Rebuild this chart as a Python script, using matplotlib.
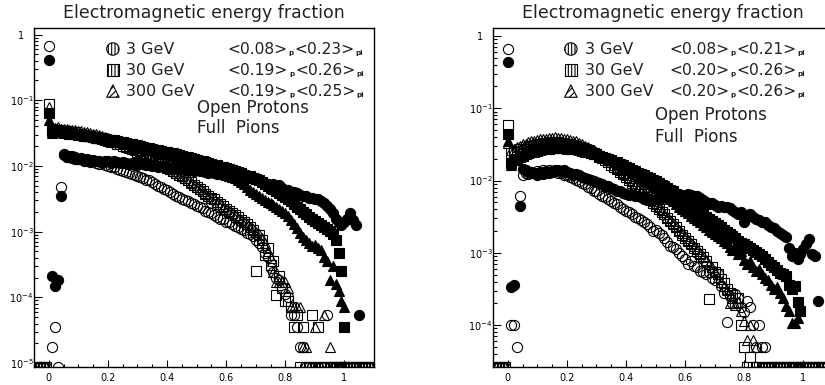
import numpy as np
import matplotlib
matplotlib.use("Agg")
import matplotlib.pyplot as plt
from matplotlib.ticker import FixedLocator, NullFormatter

# ---------------- data (log10 of bin content, bins of 0.01 starting at x=0.00; None = empty bin)
bin_width = 0.01
legend_labels = ["3 GeV", "30 GeV", "300 GeV"]
# mean values: (proton, pion)
left_means = [("0.08", "0.23"), ("0.19", "0.26"), ("0.19", "0.25")]
right_means = [("0.08", "0.21"), ("0.20", "0.26"), ("0.20", "0.26")]
title_text = "Electromagnetic energy fraction"
xtick_values = [0, 0.2, 0.4, 0.6, 0.8, 1.0]
xtick_labels = ["0", "0.2", "0.4", "0.6", "0.8", "1"]

# ---- left panel
left_p3 = [-0.18, -4.75, -4.45, None, -2.32, -1.84, -1.86, -1.85, -1.88, -1.87,
           -1.90, -1.89, -1.92, -1.91, -1.94, -1.93, -1.96, -1.97, -1.96, -1.99,
           -2.00, -2.02, -2.01, -2.04, -2.06, -2.07, -2.09, -2.10, -2.12, -2.13,
           -2.15, -2.17, -2.18, -2.21, -2.22, -2.25, -2.27, -2.30, -2.32, -2.35,
           -2.37, -2.40, -2.42, -2.46, -2.47, -2.50, -2.52, -2.53, -2.57, -2.58,
           -2.61, -2.63, -2.64, -2.68, -2.70, -2.71, -2.75, -2.77, -2.80, -2.81,
           -2.85, -2.86, -2.88, -2.92, -2.93, -2.96, -2.98, -3.02, -3.04, -3.07,
           -3.12, -3.17, -3.24, -3.33, -3.38, -3.55, -3.62, -3.70, -3.74, -3.85,
           -3.95, -4.00, -4.27, -4.27, -4.45, -4.75, -4.75, None, None, None,
           None, None, None, None, -4.27]
left_pi3 = [-0.38, -3.68, -3.82, -3.74, -2.46, -1.82, -1.86, -1.87, -1.85, -1.89,
            -1.90, -1.88, -1.91, -1.90, -1.92, -1.91, -1.93, -1.92, -1.94, -1.92,
            -1.93, -1.95, -1.93, -1.94, -1.96, -1.94, -1.95, -1.97, -1.95, -1.96,
            -1.98, -1.96, -1.97, -1.99, -1.98, -2.00, -1.98, -2.01, -2.00, -2.02,
            -2.01, -2.03, -2.02, -2.04, -2.03, -2.05, -2.04, -2.06, -2.05, -2.07,
            -2.06, -2.08, -2.07, -2.09, -2.10, -2.08, -2.11, -2.12, -2.10, -2.13,
            -2.14, -2.12, -2.15, -2.14, -2.17, -2.15, -2.18, -2.16, -2.17, -2.20,
            -2.19, -2.22, -2.24, -2.27, -2.30, -2.32, -2.28, -2.30, -2.29, -2.33,
            -2.37, -2.36, -2.39, -2.40, -2.41, -2.44, -2.45, -2.46, -2.48, -2.49,
            -2.50, -2.51, -2.53, -2.56, -2.61, -2.66, -2.72, -2.80, -2.86, -2.90,
            -2.86, -2.80, -2.72, -2.82, -2.90, -4.27]
left_p30 = [-1.05, -1.44, -1.46, -1.45, -1.47, -1.48, -1.47, -1.49, -1.50, -1.49,
            -1.52, -1.51, -1.53, -1.54, -1.55, -1.56, -1.56, -1.58, -1.59, -1.60,
            -1.62, -1.63, -1.64, -1.66, -1.67, -1.69, -1.71, -1.72, -1.74, -1.76,
            -1.78, -1.80, -1.82, -1.85, -1.87, -1.90, -1.92, -1.95, -1.97, -2.00,
            -2.03, -2.05, -2.08, -2.10, -2.13, -2.16, -2.19, -2.22, -2.25, -2.29,
            -2.32, -2.35, -2.38, -2.42, -2.45, -2.48, -2.51, -2.55, -2.58, -2.61,
            -2.65, -2.68, -2.71, -2.75, -2.78, -2.82, -2.85, -2.89, -2.93, -2.98,
            -3.60, -3.05, -3.12, -3.36, -3.25, -3.50, -3.45, -3.97, -3.67, -3.85,
            -4.05, -4.05, -4.14, -4.45, -4.27, None, -4.45, None, None, -4.27,
            None, -4.45]
left_pi30 = [-1.20, -1.47, -1.48, -1.47, -1.49, -1.50, -1.49, -1.51, -1.51, -1.52,
             -1.53, -1.53, -1.54, -1.55, -1.55, -1.56, -1.57, -1.57, -1.58, -1.59,
             -1.60, -1.61, -1.61, -1.62, -1.63, -1.64, -1.65, -1.66, -1.67, -1.68,
             -1.68, -1.70, -1.71, -1.72, -1.73, -1.74, -1.75, -1.76, -1.77, -1.78,
             -1.79, -1.80, -1.81, -1.82, -1.84, -1.85, -1.86, -1.87, -1.88, -1.89,
             -1.91, -1.92, -1.93, -1.94, -1.96, -1.97, -1.98, -1.99, -2.01, -2.02,
             -2.03, -2.05, -2.06, -2.08, -2.09, -2.11, -2.13, -2.15, -2.16, -2.18,
             -2.20, -2.22, -2.25, -2.27, -2.30, -2.33, -2.35, -2.38, -2.41, -2.44,
             -2.47, -2.50, -2.54, -2.58, -2.62, -2.66, -2.70, -2.73, -2.77, -2.80,
             -2.84, -2.87, -2.90, -2.93, -2.96, -2.99, -3.03, -3.12, -3.33, -3.60,
             -4.45]
left_p300 = [-1.10, -1.41, -1.42, -1.41, -1.43, -1.44, -1.43, -1.45, -1.45, -1.46,
             -1.47, -1.47, -1.48, -1.49, -1.50, -1.51, -1.52, -1.53, -1.55, -1.56,
             -1.57, -1.59, -1.60, -1.62, -1.63, -1.65, -1.67, -1.69, -1.71, -1.73,
             -1.75, -1.77, -1.80, -1.82, -1.85, -1.88, -1.90, -1.93, -1.96, -1.99,
             -2.02, -2.05, -2.07, -2.10, -2.13, -2.16, -2.19, -2.22, -2.26, -2.29,
             -2.32, -2.35, -2.38, -2.41, -2.45, -2.48, -2.51, -2.55, -2.58, -2.62,
             -2.65, -2.68, -2.72, -2.75, -2.79, -2.82, -2.86, -2.89, -2.93, -2.96,
             -3.00, -3.04, -3.10, -3.18, -3.30, -3.40, -3.62, -3.76, -3.76, -3.76,
             -3.76, -3.85, -4.14, -4.14, -4.14, -4.14, -4.75, -4.75, None, None,
             -4.45, None, None, -4.27, None, -4.75]
left_pi300 = [-1.30, -1.50, -1.49, -1.48, -1.49, -1.48, -1.49, -1.50, -1.50, -1.51,
              -1.52, -1.53, -1.53, -1.54, -1.55, -1.56, -1.57, -1.58, -1.58, -1.59,
              -1.60, -1.61, -1.62, -1.63, -1.64, -1.65, -1.66, -1.67, -1.68, -1.69,
              -1.70, -1.71, -1.72, -1.74, -1.75, -1.76, -1.77, -1.78, -1.80, -1.81,
              -1.82, -1.83, -1.85, -1.86, -1.87, -1.89, -1.90, -1.91, -1.93, -1.94,
              -1.96, -1.97, -1.99, -2.00, -2.02, -2.04, -2.05, -2.07, -2.09, -2.11,
              -2.13, -2.15, -2.17, -2.19, -2.22, -2.25, -2.28, -2.32, -2.36, -2.40,
              -2.43, -2.46, -2.49, -2.52, -2.55, -2.57, -2.60, -2.63, -2.66, -2.69,
              -2.72, -2.76, -2.82, -2.88, -2.95, -3.02, -3.08, -3.12, -3.18, -3.22,
              -3.20, -3.25, -3.28, -3.38, -3.45, -3.74, -3.53, -3.80, -3.90, -4.05,
              -4.15]

# ---- right panel
right_p3 = [-0.18, -4.00, -4.00, -4.30, -2.22, -1.92, -1.90, -1.91, -1.88, -1.89,
            -1.87, -1.88, -1.86, -1.87, -1.86, -1.88, -1.87, -1.89, -1.90, -1.92,
            -1.93, -1.95, -1.96, -1.99, -2.00, -2.03, -2.05, -2.09, -2.11, -2.14,
            -2.15, -2.18, -2.21, -2.23, -2.26, -2.28, -2.31, -2.33, -2.37, -2.40,
            -2.42, -2.44, -2.47, -2.50, -2.52, -2.54, -2.57, -2.60, -2.64, -2.70,
            -2.68, -2.73, -2.76, -2.80, -2.85, -2.90, -2.92, -2.95, -3.00, -3.05,
            -3.08, -3.15, -3.12, -3.18, -3.20, -3.25, -3.27, -3.30, -3.26, -3.35,
            -3.38, -3.30, -3.46, -3.55, -3.96, -3.60, -3.70, -3.57, -3.62, -3.75,
            -3.82, -3.66, -3.75, -4.00, -4.30, -4.00, -4.30, -4.30]
right_pi3 = [-0.36, -3.48, -3.44, None, -2.35, -1.84, -1.86, -1.88, -1.90, -1.89,
             -1.92, -1.90, -1.91, -1.88, -1.89, -1.87, -1.86, -1.85, -1.87, -1.86,
             -1.88, -1.90, -1.92, -1.91, -1.93, -1.95, -1.96, -1.98, -1.99, -2.00,
             -2.02, -2.03, -2.05, -2.07, -2.08, -2.10, -2.12, -2.14, -2.15, -2.17,
             -2.18, -2.20, -2.19, -2.22, -2.21, -2.23, -2.25, -2.24, -2.26, -2.27,
             -2.25, -2.23, -2.24, -2.22, -2.23, -2.21, -2.22, -2.24, -2.22, -2.20,
             -2.21, -2.19, -2.20, -2.22, -2.21, -2.24, -2.27, -2.30, -2.33, -2.31,
             -2.34, -2.36, -2.35, -2.37, -2.36, -2.38, -2.41, -2.43, -2.46, -2.44,
             -2.58, -2.48, -2.47, -2.50, -2.53, -2.55, -2.58, -2.57, -2.62, -2.64,
             -2.66, -2.70, -2.72, -2.76, -2.78, -2.94, -3.05, -3.00, -3.08, -3.02,
             -2.95, -2.88, -2.81, -3.02, -3.05, -3.67]
right_p30 = [-1.23, -1.62, -1.60, -1.59, -1.57, -1.56, -1.54, -1.53, -1.52, -1.51,
             -1.50, -1.49, -1.48, -1.48, -1.47, -1.47, -1.47, -1.47, -1.48, -1.48,
             -1.49, -1.50, -1.51, -1.52, -1.53, -1.55, -1.57, -1.58, -1.60, -1.62,
             -1.64, -1.67, -1.69, -1.72, -1.75, -1.78, -1.81, -1.84, -1.88, -1.91,
             -1.95, -1.99, -2.03, -2.07, -2.11, -2.15, -2.19, -2.23, -2.27, -2.31,
             -2.35, -2.39, -2.43, -2.47, -2.52, -2.56, -2.60, -2.65, -2.70, -2.75,
             -2.80, -2.84, -2.88, -2.93, -2.97, -3.02, -3.06, -3.12, -3.64, -3.20,
             -3.26, -3.30, -3.36, -3.42, -3.50, -3.55, -3.58, -3.70, -3.62, -4.00,
             -4.30, None, -4.44]
right_pi30 = [-1.36, -1.76, -1.72, -1.70, -1.68, -1.66, -1.64, -1.62, -1.61, -1.60,
              -1.59, -1.58, -1.57, -1.56, -1.56, -1.55, -1.55, -1.55, -1.55, -1.55,
              -1.56, -1.56, -1.57, -1.57, -1.58, -1.59, -1.60, -1.61, -1.62, -1.63,
              -1.64, -1.66, -1.67, -1.69, -1.70, -1.72, -1.74, -1.75, -1.77, -1.79,
              -1.81, -1.83, -1.85, -1.87, -1.89, -1.91, -1.93, -1.95, -1.97, -1.99,
              -2.01, -2.03, -2.06, -2.08, -2.10, -2.13, -2.15, -2.18, -2.21, -2.25,
              -2.29, -2.32, -2.35, -2.38, -2.41, -2.44, -2.47, -2.50, -2.53, -2.56,
              -2.59, -2.62, -2.65, -2.68, -2.71, -2.74, -2.77, -2.80, -2.83, -2.86,
              -2.88, -2.91, -2.93, -2.96, -2.99, -3.02, -3.05, -3.09, -3.13, -3.17,
              -3.20, -3.24, -3.28, -3.30, -3.32, -3.45, -3.50, -3.46, -3.68, -3.80]
right_p300 = [-1.48, -1.58, -1.56, -1.54, -1.52, -1.50, -1.49, -1.47, -1.46, -1.45,
              -1.44, -1.43, -1.42, -1.42, -1.41, -1.41, -1.40, -1.41, -1.41, -1.42,
              -1.43, -1.44, -1.45, -1.46, -1.48, -1.50, -1.52, -1.54, -1.56, -1.58,
              -1.61, -1.63, -1.66, -1.69, -1.72, -1.75, -1.78, -1.82, -1.86, -1.89,
              -1.93, -1.97, -2.01, -2.05, -2.09, -2.13, -2.17, -2.21, -2.25, -2.29,
              -2.33, -2.37, -2.41, -2.46, -2.50, -2.54, -2.59, -2.63, -2.68, -2.72,
              -2.77, -2.82, -2.86, -2.91, -2.95, -3.00, -3.05, -3.10, -3.15, -3.20,
              -3.25, -3.33, -3.40, -3.46, -3.52, -3.70, -3.62, -3.72, -3.68, -3.80,
              -3.95, -4.20, -4.00, -4.20, -4.30]
right_pi300 = [-1.45, -1.78, -1.72, -1.69, -1.66, -1.63, -1.61, -1.59, -1.57, -1.55,
               -1.54, -1.52, -1.51, -1.50, -1.49, -1.49, -1.48, -1.48, -1.48, -1.49,
               -1.49, -1.50, -1.51, -1.52, -1.53, -1.54, -1.55, -1.57, -1.58, -1.60,
               -1.62, -1.64, -1.66, -1.68, -1.70, -1.72, -1.74, -1.77, -1.79, -1.81,
               -1.84, -1.86, -1.89, -1.91, -1.94, -1.97, -2.00, -2.02, -2.05, -2.08,
               -2.11, -2.14, -2.17, -2.20, -2.23, -2.26, -2.29, -2.32, -2.36, -2.39,
               -2.42, -2.45, -2.49, -2.52, -2.55, -2.58, -2.62, -2.65, -2.68, -2.71,
               -2.74, -2.77, -2.80, -2.83, -2.87, -2.92, -2.96, -2.93, -3.02, -2.97,
               -3.10, -3.15, -3.12, -3.20, -3.25, -3.22, -3.30, -3.35, -3.38, -3.45,
               -3.50, -3.48, -3.55, -3.62, -3.74, -3.80, -3.97, -3.97, -3.90]

# empty-bin range covered by the histograms
hist_first_bin = -0.04
hist_last_bin = 1.09

# ---------------- style
W, H = 825, 385
fig = plt.figure(figsize=(W / 100, H / 100), dpi=100)
plt.rcParams["font.family"] = ["DejaVu Sans"]
plt.rcParams["hatch.linewidth"] = 0.8
plt.rcParams["mathtext.fontset"] = "dejavusans"

ms = 7.3
mew = 0.8
txt_col = "#222222"


def draw_series(ax, vals, marker, filled, ybottom):
    x = np.arange(len(vals)) * bin_width
    y = np.array([np.nan if v is None else 10.0 ** v for v in vals])
    if filled:
        ax.plot(x, y, ls="none", marker=marker, ms=ms, mfc="black",
                mec="black", mew=mew, clip_on=True, zorder=3)
    else:
        ax.plot(x, y, ls="none", marker=marker, ms=ms, mfc="none",
                mec="black", mew=mew, clip_on=True, zorder=4)
        # empty bins drawn on the lower frame
        empty = [i for i, v in enumerate(vals) if v is None]
        xe = list(np.arange(hist_first_bin, -0.005, bin_width))
        xe += [i * bin_width for i in empty]
        xe += list(np.arange(len(vals) * bin_width, hist_last_bin + 0.005, bin_width))
        ax.plot(xe, [ybottom] * len(xe), ls="none", marker=marker, ms=ms,
                mfc="none", mec="black", mew=mew, clip_on=True, zorder=4)


def setup_axes(ax, ylog_min, ylog_max, decades):
    ax.set_yscale("log")
    ax.set_xlim(-0.05, 1.1)
    ax.set_ylim(10 ** ylog_min, 10 ** ylog_max)
    for s in ax.spines.values():
        s.set_linewidth(1.0)
    ax.xaxis.set_major_locator(FixedLocator(xtick_values))
    ax.xaxis.set_minor_locator(FixedLocator(np.arange(-0.05, 1.11, 0.05)))
    ax.set_xticklabels(xtick_labels)
    ax.yaxis.set_major_locator(FixedLocator([10.0 ** d for d in decades]))
    minors = [m * 10.0 ** d for d in range(-6, 1) for m in range(2, 10)]
    ax.yaxis.set_minor_locator(FixedLocator(minors))
    ax.yaxis.set_minor_formatter(NullFormatter())
    labs = ["1" if d == 0 else r"$10^{%d}$" % d for d in decades]
    ax.set_yticklabels(labs)
    ax.tick_params(axis="x", which="major", direction="in", length=5, width=0.8,
                   labelsize=7, pad=4, top=False)
    ax.tick_params(axis="x", which="minor", direction="in", length=2.5, width=0.8, top=False)
    ax.tick_params(axis="y", which="major", direction="in", length=6, width=0.8,
                   labelsize=7, pad=9, right=False)
    ax.tick_params(axis="y", which="minor", direction="in", length=3, width=0.8, right=False)
    for lab in ax.get_yticklabels():
        lab.set_horizontalalignment("center")


def mean_text(ax, x, y, pair, size=11.2):
    """'<a>_p<b>_pi' built from plain text pieces with small subscripts."""
    t1 = ax.text(x, y, "<%s>" % pair[0], transform=ax.transAxes, fontsize=size,
                 va="center", ha="left", color=txt_col)
    t2 = ax.annotate("p", xy=(1, 0), xycoords=t1, xytext=(0.6, 0.5),
                     textcoords="offset points", fontsize=size * 0.45,
                     fontweight="bold", va="bottom", ha="left", color=txt_col)
    t3 = ax.annotate("<%s>" % pair[1], xy=(1, 0), xycoords=(t2, t1),
                     xytext=(0.6, 0), textcoords="offset points", fontsize=size,
                     va="bottom", ha="left", color=txt_col)
    ax.annotate("pi", xy=(1, 0), xycoords=(t3, t1), xytext=(0.6, 0.5),
                textcoords="offset points", fontsize=size * 0.45,
                fontweight="bold", va="bottom", ha="left", color=txt_col)


def legend_block(ax, means, xm, xt, xv, ys, x_op, y_open, y_full):
    markers = ["o", "s", "^"]
    hatches = ["|||||", "|||||", "/////"]
    for m, h, lab, pair, yy in zip(markers, hatches, legend_labels, means, ys):
        ax.scatter([xm], [yy], transform=ax.transAxes, marker=m, s=80,
                   facecolors="white", edgecolors="black", linewidths=0.8,
                   hatch=h, zorder=6, clip_on=False)
        ax.text(xt, yy, lab, transform=ax.transAxes, fontsize=11.5,
                va="center", ha="left", color=txt_col)
        mean_text(ax, xv, yy, pair)
    ax.text(x_op, y_open, "Open Protons", transform=ax.transAxes,
            fontsize=12, va="center", ha="left", color=txt_col)
    ax.text(x_op, y_full, "Full  Pions", transform=ax.transAxes,
            fontsize=12, va="center", ha="left", color=txt_col)


ax_h = 339 / H
axL = fig.add_axes([34 / W, 1 - 367 / H, 340 / W, ax_h])
axR = fig.add_axes([493 / W, 1 - 367 / H, 340 / W, ax_h])

L_ymin, L_ymax = -5.06, 0.10
R_ymin, R_ymax = -4.58, 0.11

for ax, ymin, ymax, decs in [(axL, L_ymin, L_ymax, [0, -1, -2, -3, -4, -5]),
                             (axR, R_ymin, R_ymax, [0, -1, -2, -3, -4])]:
    setup_axes(ax, ymin, ymax, decs)

yb_L = 10 ** L_ymin
yb_R = 10 ** R_ymin
draw_series(axL, left_pi3, "o", True, yb_L)
draw_series(axL, left_pi30, "s", True, yb_L)
draw_series(axL, left_pi300, "^", True, yb_L)
draw_series(axL, left_p3, "o", False, yb_L)
draw_series(axL, left_p30, "s", False, yb_L)
draw_series(axL, left_p300, "^", False, yb_L)

draw_series(axR, right_pi3, "o", True, yb_R)
draw_series(axR, right_pi30, "s", True, yb_R)
draw_series(axR, right_pi300, "^", True, yb_R)
draw_series(axR, right_p3, "o", False, yb_R)
draw_series(axR, right_p30, "s", False, yb_R)
draw_series(axR, right_p300, "^", False, yb_R)

legend_block(axL, left_means, 0.232, 0.27, 0.57, [0.938, 0.876, 0.814], 0.479, 0.764, 0.705)
legend_block(axR, right_means, 0.229, 0.27, 0.52, [0.938, 0.876, 0.814], 0.476, 0.743, 0.678)

fig.text(204 / W, 1 - 13 / H, title_text, ha="center", va="center", fontsize=12.5,
         color=txt_col)
fig.text(663 / W, 1 - 13 / H, title_text, ha="center", va="center", fontsize=12.5,
         color=txt_col)

fig.savefig("out.png", dpi=100)
